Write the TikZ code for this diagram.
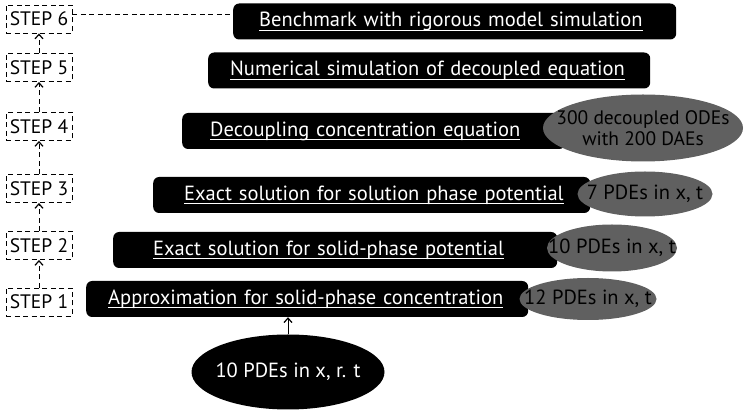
\documentclass[tikz,border=0pt]{standalone}
\usepackage{fontspec}
\setmainfont{PT Sans}
\usetikzlibrary{shapes.geometric,arrows.meta}
\definecolor{ovalgrey}{RGB}{96,96,96}
% white underlined task title that never wraps
\newsavebox\titlebox
\newcommand\tasktitle[1]{\sbox\titlebox{#1}\mbox{\rlap{\rule[-4pt]{\wd\titlebox}{1pt}}\usebox\titlebox}}
\begin{document}
\begin{tikzpicture}[x=1pt,y=-1pt,
  font=\fontsize{20.5}{23}\selectfont,
  stepbox/.style={draw, dash pattern=on 5pt off 3.5pt, line width=0.9pt,
    minimum width=66pt, minimum height=28pt, inner sep=0pt,
    font=\fontsize{19.5}{22}\selectfont},
  taskbox/.style={fill=black, rounded corners=6pt, text=white,
    minimum height=36pt, anchor=west, align=left, inner ysep=0pt},
  resultoval/.style={ellipse, fill=ovalgrey, inner sep=0pt},
  flow/.style={dash pattern=on 5pt off 3.5pt, line width=0.9pt,
    -{Straight Barb[length=4.5pt,width=8pt,line width=1.2pt]}},
  feed/.style={line width=1pt, -{Straight Barb[length=4.5pt,width=8pt,line width=1.2pt]}}
]
\useasboundingbox (0,0) rectangle (748,411);

% step labels on the left
\node[stepbox] (s6) at (39,19)    {STEP 6};
\node[stepbox] (s5) at (39,67.5)  {STEP 5};
\node[stepbox] (s4) at (39,126.5) {STEP 4};
\node[stepbox] (s3) at (39,188.5) {STEP 3};
\node[stepbox] (s2) at (39,245.5) {STEP 2};
\node[stepbox] (s1) at (39,302)   {STEP 1};

\draw[flow] (s1.north) -- (s2.south);
\draw[flow] (s2.north) -- (s3.south);
\draw[flow] (s3.north) -- (s4.south);
\draw[flow] (s4.north) -- (s5.south);
\draw[flow] (s5.north) -- (s6.south);

% task boxes
\node[taskbox, inner xsep=26pt, text width=391pt] (b6) at (233,21.5)
  {\tasktitle{Benchmark with rigorous model simulation}};
\node[taskbox, inner xsep=22pt, text width=398pt] (b5) at (208,70.5)
  {\tasktitle{Numerical simulation of decoupled equation}};
\node[taskbox, inner xsep=28pt, text width=327pt] (b4) at (182,131)
  {\tasktitle{Decoupling concentration equation}};
\node[taskbox, inner xsep=31pt, text width=375pt] (b3) at (153,195)
  {\tasktitle{Exact solution for solution phase potential}};
\node[taskbox, inner xsep=40pt, text width=364pt] (b2) at (113,250)
  {\tasktitle{Exact solution for solid-phase potential}};
\node[taskbox, inner xsep=22pt, text width=398pt] (b1) at (86,299)
  {\tasktitle{Approximation for solid-phase concentration}};

\draw[dash pattern=on 5pt off 3.5pt, line width=0.9pt]
  ([yshift=5pt]s6.east) -- ([yshift=5pt]s6.east -| b6.west);

% equation counts
\node[resultoval, minimum width=200pt, minimum height=67pt,
  label={[align=center, font=\fontsize{19.5}{21.5}\selectfont]center:300 decoupled ODEs\\with 200 DAEs}] (r4) at (643,128) {};
\node[resultoval, minimum width=135pt, minimum height=45pt,
  label={center:7 PDEs in x, t}] (r3) at (645,194) {};
\node[resultoval, minimum width=130pt, minimum height=47pt,
  label={center:10 PDEs in x, t}] (r2) at (612,248) {};
\node[resultoval, minimum width=137pt, minimum height=42pt,
  label={center:12 PDEs in x, t}] (r1) at (588,299) {};

% full model
\node[ellipse, fill=black, minimum width=193pt, minimum height=75pt, inner sep=0pt,
  label={[text=white]center:10 PDEs in x, r. t}] (src) at (288,372) {};
\draw[feed] (src.north) -- (src.north |- b1.south);
\end{tikzpicture}
\end{document}
